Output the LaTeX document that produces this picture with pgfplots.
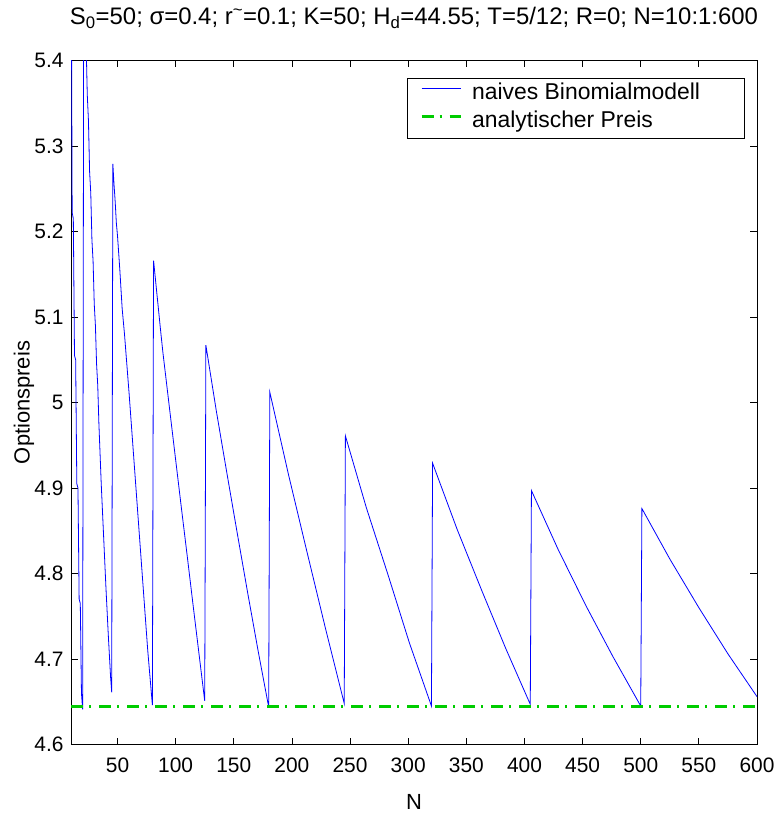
\documentclass[border=0pt]{standalone}
\usepackage{fontspec}
\setmainfont{Liberation Sans}
\usepackage{pgfplots}
\pgfplotsset{compat=1.18}
\definecolor{mgreen}{RGB}{0,204,0}
\definecolor{mblue}{RGB}{0,0,255}

\begin{document}
\begin{tikzpicture}
\begin{axis}[
    width=686bp, height=684bp, scale only axis,
    xmin=10, xmax=600, ymin=4.6, ymax=5.4,
    xtick={50,100,150,200,250,300,350,400,450,500,550,600},
    ytick={4.6,4.7,4.8,4.9,5.0,5.1,5.2,5.3,5.4},
    yticklabels={4.6,4.7,4.8,4.9,5,5.1,5.2,5.3,5.4},
    tick align=inside,
    major tick length=7bp,
    axis line style={line width=1bp},
    every tick/.style={black, line width=0.8bp},
    /pgf/number format/assume math mode=true,
    tick label style={font=\fontsize{21}{23}\selectfont},
    xticklabel style={yshift=-10bp},
    yticklabel style={xshift=-4bp},
    xlabel={N},
    ylabel={Optionspreis},
    every axis x label/.style={at={(rel axis cs:0.5,0)}, yshift=-57bp, anchor=center,
        font=\fontsize{22}{24}\selectfont},
    every axis y label/.style={at={(rel axis cs:0,0.5)}, xshift=-47bp, rotate=90, anchor=center,
        font=\fontsize{22}{24}\selectfont},
    title={S\textsubscript{0}=50; σ=0.4; r\textsuperscript{\textasciitilde}=0.1; K=50; H\textsubscript{d}=44.55; T=5/12; R=0; N=10:1:600},
    title style={at={(rel axis cs:0.5,1)}, anchor=base, yshift=30bp, font=\fontsize{24}{26}\selectfont},
    legend style={at={(0.9825,0.9744)}, anchor=north east,
        font=\fontsize{23}{25}\selectfont, draw=black, line width=0.8bp,
        inner xsep=13bp, inner ysep=3.5bp, row sep=3.5bp, column sep=8.5bp,
        nodes={inner sep=1.5bp, text height=16.5bp, text depth=5bp}},
    legend cell align=left,
    legend image code/.code={\draw[#1] (0bp,6bp) -- (39bp,6bp);},
]
\addplot[mblue, line width=0.8bp] coordinates {
(10,5.60) (11,5.222) (12,5.215) (13,5.055) (14,5.05) (15,4.905) (16,4.90) (17,4.77) (18,4.765) (19,4.66) (20,4.641)
(21,5.55) (22,5.47) (23,5.42) (24,5.36) (25,5.33) (26,5.27) (27,5.245) (28,5.19) (29,5.165) (30,5.115) (31,5.09) (32,5.045) (33,5.02) (34,4.975) (36,4.905) (38,4.845) (40,4.785) (42,4.73) (44,4.68) (45,4.661)
(46,5.279) (47,5.255) (48,5.235) (49,5.21) (50,5.195) (52,5.155) (54,5.11) (56,5.08) (58,5.045) (60,5.01) (64,4.935) (68,4.86) (72,4.785) (76,4.71) (80,4.646)
(81,5.166) (83,5.139) (85,5.112) (87,5.085) (89,5.059) (95,4.99) (100,4.933) (105,4.876) (110,4.82) (115,4.763) (120,4.707) (125,4.651)
(126,5.067) (135,4.99) (144,4.918) (153,4.847) (162,4.777) (171,4.709) (180,4.644)
(181,5.012) (197,4.916) (213,4.825) (229,4.735) (245,4.648)
(246,4.961) (264,4.877) (283,4.797) (301,4.719) (320,4.645)
(321,4.929) (342,4.852) (363,4.781) (384,4.712) (405,4.647)
(406,4.897) (429,4.828) (453,4.762) (476,4.703) (500,4.645)
(501,4.876) (525,4.817) (550,4.760) (575,4.706) (600,4.656)
};
\addlegendentry{naives Binomialmodell\kern30bp}
\addplot[mgreen, line width=3bp, dash pattern=on 12bp off 6bp on 2bp off 8bp] coordinates {
(10,4.644) (600,4.644)
};
\addlegendentry{analytischer Preis}
\coordinate (SW) at (rel axis cs:0,0);
\coordinate (NE) at (rel axis cs:1,1);
\end{axis}
\pgfresetboundingbox
\path[use as bounding box] ([shift={(-71bp,-69.5bp)}]SW) rectangle ([shift={(25bp,60.5bp)}]NE);
\end{tikzpicture}
\end{document}
